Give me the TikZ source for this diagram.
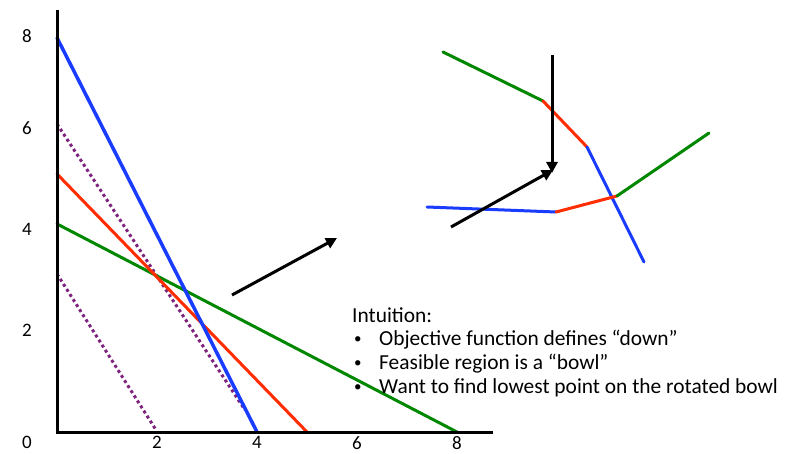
\documentclass[tikz,border=0pt]{standalone}
\usepackage{fontspec}
\setmainfont{Carlito}
\usetikzlibrary{arrows.meta}
\definecolor{lpblue}{RGB}{25,60,255}
\definecolor{lpred}{RGB}{255,45,0}
\definecolor{lpgreen}{RGB}{0,135,0}
\definecolor{lppurple}{RGB}{125,35,125}
\tikzset{
  axis/.style={line width=3pt,black},
  cons/.style={line width=3pt,line cap=round},
  objline/.style={line width=3pt,lppurple,dash pattern=on 3pt off 3pt},
  bigarrow/.style={line width=3pt,-{Triangle[length=11pt,width=11pt]}},
  ticklab/.style={inner sep=0pt,font=\fontsize{19}{24}\selectfont},
  txt/.style={anchor=base west,inner sep=0pt,font=\fontsize{21.4}{24}\selectfont},
}
\begin{document}
\begin{tikzpicture}[x=1pt,y=1pt]
\useasboundingbox (0,0) rectangle (798,453);

% the plot, origin at (57,21)
\begin{scope}[shift={(57,21)},x=50pt,y=51pt]
\draw[objline] (0,3.1) -- (1.98,0.04);
\draw[objline] (0,6.04) -- (3.76,0.43);
\draw[cons,lpgreen] (0,4.08) -- (8,0);
\draw[cons,lpred] (0,5.06) -- (5,0);
\draw[cons,lpblue,line width=3.5pt] (0,7.73) -- (4,0);
\draw[axis] (0,8.27) -- (0,0) -- (8.72,0);
\foreach \v in {2,4,6,8}
  \node[ticklab] at (\v,-0.21) {\v};
\end{scope}
\foreach \v/\ypos in {8/417,6/325,4/223.5,2/123,0/10.5}
  \node[ticklab] at (27,\ypos) {\v};

% arrow from the plot to the rotated view
\coordinate (rotA) at (232,158);
\coordinate (rotB) at (337,215);
\draw[bigarrow] (rotA) -- (rotB);

% rotated bowl
\coordinate (g1) at (443,401);
\coordinate (g2) at (543,352);
\coordinate (r1) at (587,306);
\coordinate (b1) at (644,191);
\coordinate (b2) at (427,246);
\coordinate (r2) at (556,241);
\coordinate (m) at (617,257);
\coordinate (g3) at (709,320);
\draw[cons,lpgreen] (g1) -- (g2);
\draw[cons,lpred] (g2) -- (r1);
\draw[cons,lpblue] (r1) -- (b1);
\draw[cons,lpblue] (b2) -- (r2);
\draw[cons,lpred] (r2) -- (m);
\draw[cons,lpgreen] (m) -- (g3);

% objective direction
\coordinate (dtop) at (552,398);
\coordinate (dtip) at (552,280);
\coordinate (otail) at (451,226);
\coordinate (otip) at (553,283);
\draw[bigarrow] (dtop) -- (dtip);
\draw[bigarrow] (otail) -- (otip);

% text
\node[txt] (intu) at (352,131) {Intuition:};
\foreach \t/\ypos in {Objective function defines “down”/108,
    Feasible region is a “bowl”/84,
    Want to find lowest point on the rotated bowl/60}{
  \node[txt,font=\fontsize{15}{15}\selectfont] at (354,\ypos+2) {\textbullet};
  \node[txt] at (379,\ypos) {\t};
}
\end{tikzpicture}
\end{document}
